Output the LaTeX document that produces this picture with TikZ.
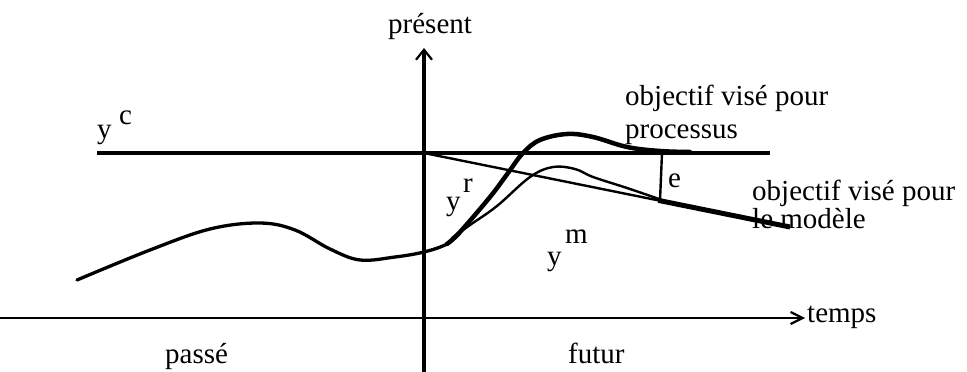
\documentclass[tikz,border=0pt]{standalone}
\usepackage{fontspec}
\setmainfont{Liberation Serif}
\usetikzlibrary{arrows.meta,calc}
\begin{document}
\begin{tikzpicture}[x=1pt,y=-1pt,
  lbl/.style={font=\fontsize{29}{33}\selectfont, inner sep=0pt, anchor=base west},
  vaxis/.style={line width=3.2pt},
  haxis/.style={line width=2.8pt},
  refline/.style={line width=3.3pt},
  thinline/.style={line width=2.4pt},
  thickline/.style={line width=5pt},
  pastcurve/.style={line width=3.3pt, line join=round, line cap=round},
  proccurve/.style={line width=4.5pt, line join=round, line cap=round},
  modcurve/.style={line width=2.4pt, line join=round, line cap=round}]
\useasboundingbox (0,0) rectangle (967,372);
% coordinates
\coordinate (vb) at (424,372);
\coordinate (vt) at (424,48);
\coordinate (hl) at (0,318);
\coordinate (hr) at (805,318);
\coordinate (cl) at (97,153);
\coordinate (cr) at (770,153);
\coordinate (o) at (424,153);
\coordinate (me) at (790,227);
\coordinate (et) at (662,153);
\coordinate (eb) at ($(o)!0.6448!(me)$);
\coordinate (tk) at ($(o)!0.64!(me)$);
% axes
\draw[vaxis, -{Straight Barb[length=10pt,width=16pt,line width=2.2pt]}] (vb) -- (vt);
\draw[haxis, -{Straight Barb[length=12pt,width=12pt,line width=2.2pt]}] (hl) -- (hr);
% reference and target lines
\draw[refline] (cl) -- (cr);
\draw[thinline] (o) -- (me);
\draw[thickline] (tk) -- (me);
\draw[thinline] (et) -- (eb);
% curves
\draw[pastcurve] plot[smooth, tension=0.6] coordinates {(77,280) (150,250) (210,229) (260,223) (295,230) (330,249) (360,260) (395,257) (424,252) (447,244) (460,233)};
\draw[proccurve] plot[smooth, tension=0.6] coordinates {(447,244) (460,232) (490,197) (508,173) (523,153) (540,140) (567,134) (593,137) (627,147) (660,151) (690,152)};
\draw[modcurve] plot[smooth, tension=0.6] coordinates {(452,238) (470,225) (497,206) (530,177) (553,167) (575,169) (593,177) (627,188) (662,200)};
% labels
\node[lbl] (present) at (388,33) {présent};
\node[lbl] (yc) at (97,138) {y};
\node[lbl] (c) at (119,124) {c};
\node[lbl] (yr) at (446,210) {y};
\node[lbl] (r) at (463,192) {r};
\node[lbl] (ym) at (547,265) {y};
\node[lbl] (m) at (565,243) {m};
\node[lbl] (e) at (668,187) {e};
\node[lbl] (op1) at (625,105) {objectif visé pour};
\node[lbl] (op2) at (625,138) {processus};
\node[lbl] (om1) at (752,200) {objectif visé pour};
\node[lbl] (om2) at (752,228) {le modèle};
\node[lbl] (temps) at (807,322) {temps};
\node[lbl] (passe) at (165,363) {passé};
\node[lbl] (futur) at (568,363) {futur};
\end{tikzpicture}
\end{document}
